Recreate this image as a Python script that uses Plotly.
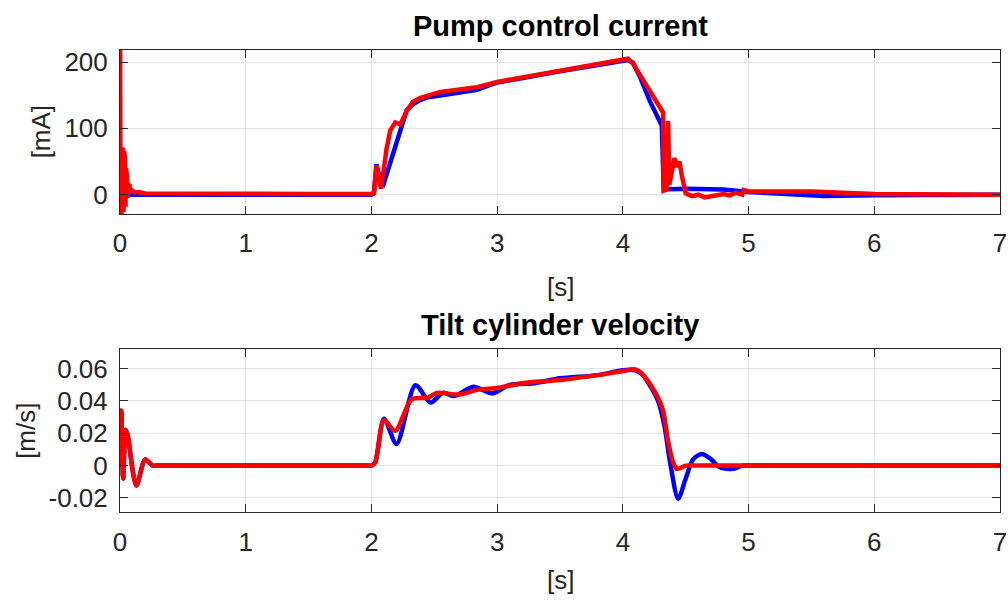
import plotly.graph_objects as go
from plotly.subplots import make_subplots

# ---- Pump control current [mA] ----
cur_blue_t = [0.0, 2.0, 2.02, 2.04, 2.06, 2.09, 2.28, 2.32, 2.38, 2.45, 2.6, 2.75, 2.84, 2.95, 3.0, 3.5, 4.0,
              4.04, 4.08, 4.14, 4.215, 4.31, 4.325, 4.5, 4.8, 5.0, 5.3, 5.6, 6.0, 6.5, 7.0]
cur_blue_v = [0.0, 0.0, 2.0, 46.0, 30.0, 12.0, 127.0, 135.0, 142.0, 147.0, 151.0, 155.0, 158.0, 166.0, 169.0, 186.0, 202.0,
              203.0, 199.0, 176.0, 141.0, 104.0, 8.0, 9.0, 8.0, 4.0, 1.0, -2.0, -1.0, 0.0, 0.0]

cur_red_t = [0.0, 0.001, 0.004, 0.008, 0.012, 0.016, 0.02, 0.024, 0.028, 0.032, 0.036, 0.04, 0.044, 0.048,
             0.052, 0.056, 0.06, 0.065, 0.07, 0.075, 0.08, 0.085, 0.09, 0.1, 0.12, 0.15, 0.2, 0.5, 1.0, 1.5,
             2.0, 2.02, 2.04, 2.055, 2.075, 2.1, 2.12, 2.15, 2.19, 2.23, 2.28, 2.33, 2.39, 2.55, 2.84, 3.0,
             3.5, 4.0, 4.04, 4.08, 4.14, 4.24, 4.32, 4.325, 4.35, 4.36, 4.37, 4.39, 4.41, 4.43, 4.45, 4.47,
             4.5, 4.55, 4.6, 4.65, 4.7, 4.75, 4.8, 4.85, 4.9, 4.95, 4.96, 5.0, 5.5, 6.0, 6.5, 7.0]
cur_red_v = [0.0, 218.0, -29.0, 60.0, -29.0, 70.0, -28.0, 68.0, -26.0, 66.0, -22.0, 55.0, -18.0, 40.0,
             -10.0, 28.0, -5.0, 18.0, 5.0, 16.0, 2.0, 10.0, 3.0, 6.0, 3.0, 4.0, 2.0, 1.5, 1.5, 1.0,
             1.0, 3.0, 44.0, 25.0, 9.0, 40.0, 69.0, 97.0, 109.0, 106.0, 126.0, 140.0, 146.0, 155.0, 162.0, 170.0,
             187.0, 203.0, 205.0, 198.0, 180.0, 149.0, 124.0, 6.0, 8.0, 111.0, 15.0, 35.0, 55.0, 42.0, 50.0, 28.0,
             2.0, -2.0, 0.0, -4.0, -2.0, 0.0, 1.0, -1.0, 3.0, 0.0, 7.0, 5.0, 5.0, 1.0, 0.0, 0.0]

# ---- Tilt cylinder velocity [m/s] ----
vel_blue_t = [0.0, 0.01, 0.025, 0.045, 0.06, 0.13, 0.2, 0.26, 0.3, 0.6, 1.0, 1.5, 1.9, 1.97, 2.0, 2.03,
              2.1, 2.2, 2.35, 2.47, 2.57, 2.66, 2.81, 2.96, 3.1, 3.3, 3.5, 3.8, 4.0, 4.1, 4.16, 4.22,
              4.28, 4.33, 4.38, 4.44, 4.5, 4.56, 4.63, 4.7, 4.77, 4.88, 4.95, 5.0, 5.5, 6.0, 6.5, 7.0]
vel_blue_v = [0.0, 0.034, -0.008, 0.022, 0.019, -0.0123, 0.0037, 0.0, 0.0, 0.0, 0.0, 0.0, 0.0, 0.0, 0.0, 0.002,
              0.029, 0.0134, 0.0497, 0.039, 0.045, 0.043, 0.0488, 0.0447, 0.05, 0.051, 0.054, 0.056, 0.059, 0.059,
              0.056, 0.049, 0.04, 0.025, 0.0, -0.0205, -0.008, 0.004, 0.0072, 0.004, -0.001, -0.002, 0.0,
              0.0, 0.0, 0.0, 0.0, 0.0]

vel_red_t = [0.0, 0.01, 0.025, 0.045, 0.06, 0.13, 0.2, 0.26, 0.3, 0.6, 1.0, 1.5, 1.9, 1.97, 2.0, 2.03,
             2.1, 2.19, 2.32, 2.45, 2.52, 2.7, 2.85, 3.0, 3.2, 3.5, 3.8, 4.0, 4.1, 4.15, 4.22, 4.28,
             4.32, 4.36, 4.4, 4.43, 4.5, 4.55, 4.7, 5.0, 5.5, 6.0, 6.5, 7.0]
vel_red_v = [0.0, 0.034, -0.008, 0.022, 0.019, -0.0123, 0.0037, 0.0, 0.0, 0.0, 0.0, 0.0, 0.0, 0.0, 0.0, 0.002,
             0.028, 0.0215, 0.041, 0.042, 0.045, 0.044, 0.047, 0.048, 0.051, 0.053, 0.056, 0.0585, 0.0595, 0.057,
             0.05, 0.042, 0.034, 0.015, 0.002, -0.002, 0.0, 0.0, 0.0, 0.0, 0.0, 0.0, 0.0, 0.0]

x_ticks = [0, 1, 2, 3, 4, 5, 6, 7]
cur_ticks = [0, 100, 200]
vel_ticks = [-0.02, 0, 0.02, 0.04, 0.06]
vel_tick_text = ["-0.02", "0", "0.02", "0.04", "0.06"]

W, H = 1008, 601
FONT = "Liberation Sans, Arial, sans-serif"
AX = "#262626"
GRID = "#e3e3e3"


def fy(px):
    """Vertical pixel position (from top) to paper fraction."""
    return 1 - px / H


fig = make_subplots(rows=2, cols=1)

line_w = 4.5
fig.add_trace(go.Scatter(x=cur_blue_t, y=cur_blue_v, mode="lines",
                         line=dict(color="#0000ff", width=line_w)), row=1, col=1)
fig.add_trace(go.Scatter(x=cur_red_t, y=cur_red_v, mode="lines",
                         line=dict(color="#ff0000", width=line_w)), row=1, col=1)
fig.add_trace(go.Scatter(x=vel_blue_t, y=vel_blue_v, mode="lines",
                         line=dict(color="#0000ff", width=line_w, shape="spline", smoothing=0.8)),
              row=2, col=1)
fig.add_trace(go.Scatter(x=vel_red_t, y=vel_red_v, mode="lines",
                         line=dict(color="#ff0000", width=line_w, shape="spline", smoothing=0.8)),
              row=2, col=1)

axis_common = dict(showline=True, linecolor=AX, linewidth=1, mirror="allticks",
                   ticks="inside", ticklen=8, tickcolor=AX, tickwidth=1,
                   showgrid=True, gridcolor=GRID, gridwidth=1, zeroline=False,
                   tickfont=dict(family=FONT, size=26, color=AX))

fig.update_xaxes(axis_common)
fig.update_yaxes(axis_common)

fig.update_xaxes(range=[0, 7], tickvals=x_ticks, domain=[0, 1], ticklabelstandoff=6)
fig.update_yaxes(range=[-29, 218.5], tickvals=cur_ticks, domain=[fy(212), fy(47)],
                 ticklabelstandoff=6, row=1, col=1)
fig.update_yaxes(range=[-0.029, 0.072], tickvals=vel_ticks, ticktext=vel_tick_text,
                 domain=[fy(512), fy(348)], ticklabelstandoff=6, row=2, col=1)

title_font = dict(family=FONT, size=29, color="#000000")
label_font = dict(family=FONT, size=26, color=AX)
fig.update_layout(
    width=W, height=H,
    margin=dict(l=120, r=8, t=0, b=0),
    paper_bgcolor="white", plot_bgcolor="white",
    showlegend=False,
    annotations=[
        dict(text="<b>Pump control current</b>", x=0.5, y=fy(23), xref="paper", yref="paper",
             showarrow=False, font=title_font, xanchor="center", yanchor="middle"),
        dict(text="<b>Tilt cylinder velocity</b>", x=0.5, y=fy(324), xref="paper", yref="paper",
             showarrow=False, font=title_font, xanchor="center", yanchor="middle"),
        dict(text="[s]", x=0.5, y=fy(285), xref="paper", yref="paper",
             showarrow=False, font=label_font, xanchor="center", yanchor="middle"),
        dict(text="[s]", x=0.5, y=fy(580), xref="paper", yref="paper",
             showarrow=False, font=label_font, xanchor="center", yanchor="middle"),
        dict(text="[mA]", x=(41 - 120) / 880, y=fy(130), xref="paper", yref="paper",
             showarrow=False, font=label_font, textangle=-90, xanchor="center", yanchor="middle"),
        dict(text="[m/s]", x=(26 - 120) / 880, y=fy(430), xref="paper", yref="paper",
             showarrow=False, font=label_font, textangle=-90, xanchor="center", yanchor="middle"),
    ],
)

fig.write_html("out.html")
